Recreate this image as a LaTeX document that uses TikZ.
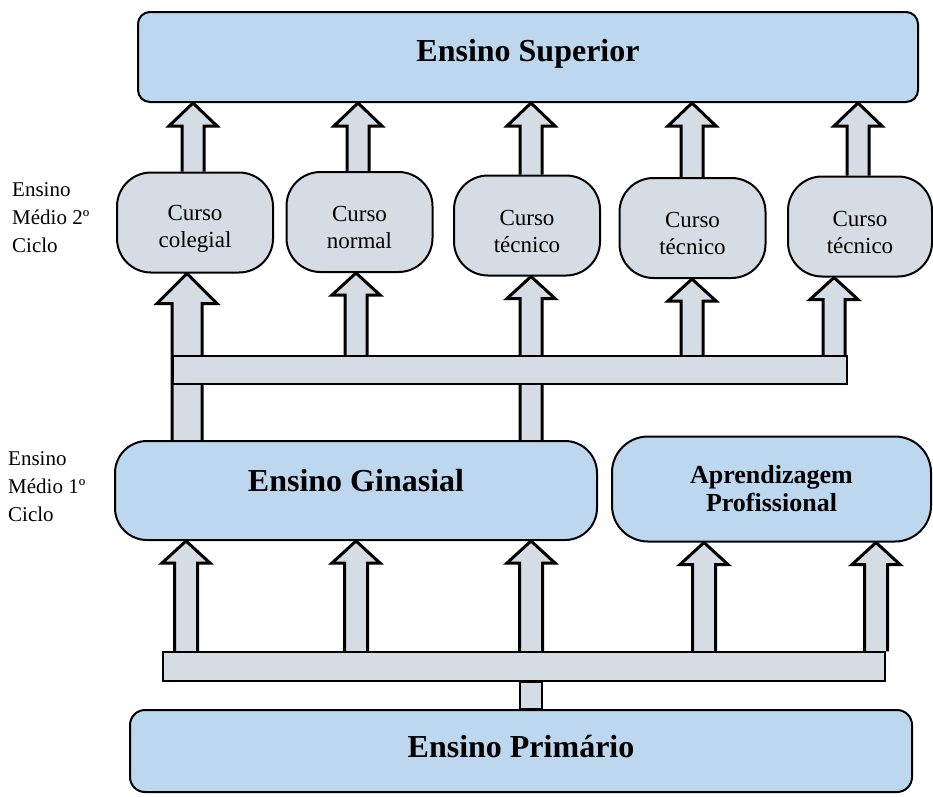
\documentclass[tikz,border=0pt]{standalone}
\usepackage{fontspec}
\setmainfont{Liberation Serif}
\usetikzlibrary{calc, backgrounds}

\definecolor{nivelazul}{RGB}{189,215,238}
\definecolor{cursocinza}{RGB}{214,220,228}

% seta larga: x, ponto de saida, ponto de chegada, meia haste, meia ponta, comprimento da ponta
\newcommand{\setalarga}[6]{%
  \coordinate (seta_x) at (#1,0);
  \coordinate (seta_b) at (seta_x |- #2);
  \coordinate (seta_t) at (seta_x |- #3);
  \draw[seta] ($(seta_b)+(-#4,0)$) -- ($(seta_t)+(-#4,#6)$) -- ($(seta_t)+(-#5,#6)$)
    -- (seta_t) -- ($(seta_t)+(#5,#6)$) -- ($(seta_t)+(#4,#6)$) -- ($(seta_b)+(#4,0)$);
}

\begin{document}
\begin{tikzpicture}[
  x=1pt, y=-1pt,
  font=\fontsize{23}{27}\selectfont,
  % Estilos dos blocos
  nivel/.style={draw, line width=2pt, fill=nivelazul, align=center, inner sep=0pt,
    font=\bfseries\fontsize{32}{36}\selectfont},
  curso/.style={draw, line width=2pt, fill=cursocinza, align=center, inner sep=0pt,
    rounded corners=34pt, minimum width=146pt, minimum height=100pt, text height=54pt},
  barra/.style={draw, line width=1.5pt, fill=cursocinza, inner sep=0pt},
  ciclo/.style={align=left, anchor=west, inner sep=0pt, font=\fontsize{21}{28}\selectfont},
  % Estilos das setas
  seta/.style={draw, line width=3pt, fill=cursocinza, line join=miter},
  haste/.style={draw, line width=1.5pt, fill=cursocinza}
]

  \useasboundingbox (0,0) rectangle (933,796);

  % ==========================================
  % NIVEIS
  % ==========================================
  \node[nivel, minimum width=780pt, minimum height=90pt, rounded corners=12pt, text depth=14pt]
    (superior) at (528,57) {Ensino Superior};

  \node[curso, minimum width=156pt] (colegial) at (195,222.5) {Curso\\colegial};
  \node[curso] (normal) at (359.5,222) {Curso\\normal};
  \node[curso] (tecnico_a) at (527,225.5) {Curso\\técnico};
  \node[curso] (tecnico_b) at (692.5,228) {Curso\\técnico};
  \node[curso, minimum width=144pt] (tecnico_c) at (860,226.5) {Curso\\técnico};

  \node[barra, minimum width=674pt, minimum height=28pt] (barra_sup) at (510,370) {};

  \node[nivel, minimum width=482pt, minimum height=99pt, rounded corners=32pt, text depth=20pt]
    (ginasial) at (356,490.5) {Ensino Ginasial};
  \node[nivel, minimum width=319pt, minimum height=105pt, rounded corners=36pt,
    font=\bfseries\fontsize{26}{28}\selectfont]
    (aprendizagem) at (771.5,489) {Aprendizagem\\Profissional};

  \node[barra, minimum width=722pt, minimum height=29pt] (barra_inf) at (524,666.5) {};

  \node[nivel, minimum width=782pt, minimum height=82pt, rounded corners=15pt, text depth=10pt]
    (primario) at (521,751) {Ensino Primário};

  % Rotulos laterais
  \node[ciclo] (ciclo_2) at (12,218) {Ensino\\Médio 2º\\Ciclo};
  \node[ciclo] (ciclo_1) at (8,487) {Ensino\\Médio 1º\\Ciclo};

  % ==========================================
  % SETAS
  % ==========================================
  \begin{scope}[on background layer]
    % cursos -> ensino superior
    \setalarga{193}{colegial.north}{superior.south}{11}{24}{23}
    \setalarga{358}{normal.north}{superior.south}{11}{24}{23}
    \setalarga{531}{tecnico_a.north}{superior.south}{11}{24}{23}
    \setalarga{692}{tecnico_b.north}{superior.south}{11}{24}{23}
    \setalarga{858}{tecnico_c.north}{superior.south}{11}{24}{23}

    % ginasial / barra -> cursos
    \setalarga{187}{ginasial.north}{colegial.south}{15}{30}{30}
    \setalarga{356}{barra_sup.north}{normal.south}{11}{24}{22}
    \setalarga{531}{ginasial.north}{tecnico_a.south}{11}{24}{22}
    \setalarga{692}{barra_sup.north}{tecnico_b.south}{11}{24}{22}
    \setalarga{834}{barra_sup.north}{tecnico_c.south}{11}{24}{22}

    % barra -> ginasial e aprendizagem
    \setalarga{186}{barra_inf.north}{ginasial.south}{11.5}{24}{22}
    \setalarga{356}{barra_inf.north}{ginasial.south}{11.5}{24}{22}
    \setalarga{531}{barra_inf.north}{ginasial.south}{11.5}{24}{22}
    \setalarga{704}{barra_inf.north}{aprendizagem.south}{11.5}{24}{22}
    \setalarga{876}{barra_inf.north}{aprendizagem.south}{11.5}{24}{22}

    % primario -> barra
    \coordinate (haste_x) at (531,0);
    \draw[haste] ($(haste_x |- primario.north)+(-11,0)$) rectangle ($(haste_x |- barra_inf.south)+(11,0)$);
  \end{scope}

\end{tikzpicture}
\end{document}
